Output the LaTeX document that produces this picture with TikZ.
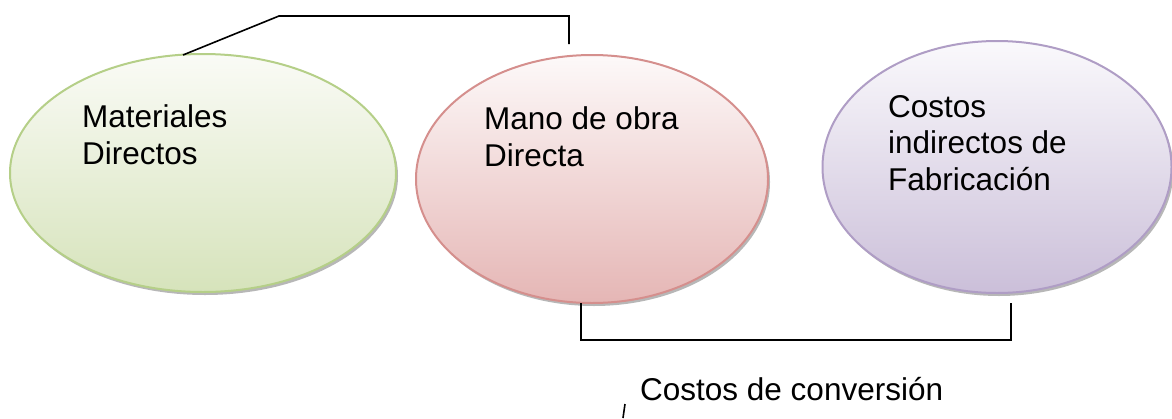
\documentclass[tikz,border=0pt]{standalone}
\usepackage{fontspec}
\setmainfont{Liberation Sans}
\usetikzlibrary{shapes.geometric,shadows}
\definecolor{gborder}{HTML}{B5CF88}
\definecolor{gtop}{HTML}{FAFBF6}
\definecolor{gbot}{HTML}{D6E3BB}
\definecolor{rborder}{HTML}{D58F8D}
\definecolor{rtop}{HTML}{FDF9F9}
\definecolor{rbot}{HTML}{E5B6B5}
\definecolor{pborder}{HTML}{AF9DC5}
\definecolor{ptop}{HTML}{FAF9FC}
\definecolor{pbot}{HTML}{CBBFD9}
\tikzset{
  oval/.style={ellipse, inner sep=0pt, line width=2pt,
    drop shadow={shadow xshift=2pt, shadow yshift=-3pt, opacity=0.4, fill=black!70}},
  lbl/.style={anchor=base west, align=left, inner sep=0pt,
    font=\fontsize{31.5}{37}\selectfont},
  conn/.style={draw=black, line width=1.6pt}
}
\begin{document}
\begin{tikzpicture}[x=1pt,y=-1pt]
\useasboundingbox (0,0) rectangle (1172,418);
\node[oval, draw=gborder, top color=gtop, bottom color=gbot,
  minimum width=386pt, minimum height=238pt] (mat) at (203,173) {};
\node[oval, draw=rborder, top color=rtop, bottom color=rbot,
  minimum width=352pt, minimum height=248pt] (mano) at (592,179) {};
\node[oval, draw=pborder, top color=ptop, bottom color=pbot,
  minimum width=349pt, minimum height=252pt] (cif) at (997,167) {};
\node[lbl] (tmat) at (82,164) {Materiales\\Directos};
\node[lbl] (tmano) at (484,166) {Mano de obra\\Directa};
\node[lbl, font=\fontsize{31.5}{36.5}\selectfont] (tcif) at (888,190) {Costos\\indirectos de\\Fabricación};
\node[lbl] (tconv) at (640,400) {Costos de conversión};
\coordinate (a1) at (183,55);
\coordinate (a2) at (569,44);
\draw[conn] (a1) -- (279,16) -- (569,16) -- (a2);
\coordinate (b1) at (581,303);
\coordinate (b2) at (1011,303);
\draw[conn] (b1) -- (581,340) -- (1011,340) -- (b2);
\coordinate (c1) at (625,404);
\coordinate (c2) at (623,418);
\draw[conn] (c1) -- (c2);
\end{tikzpicture}
\end{document}
